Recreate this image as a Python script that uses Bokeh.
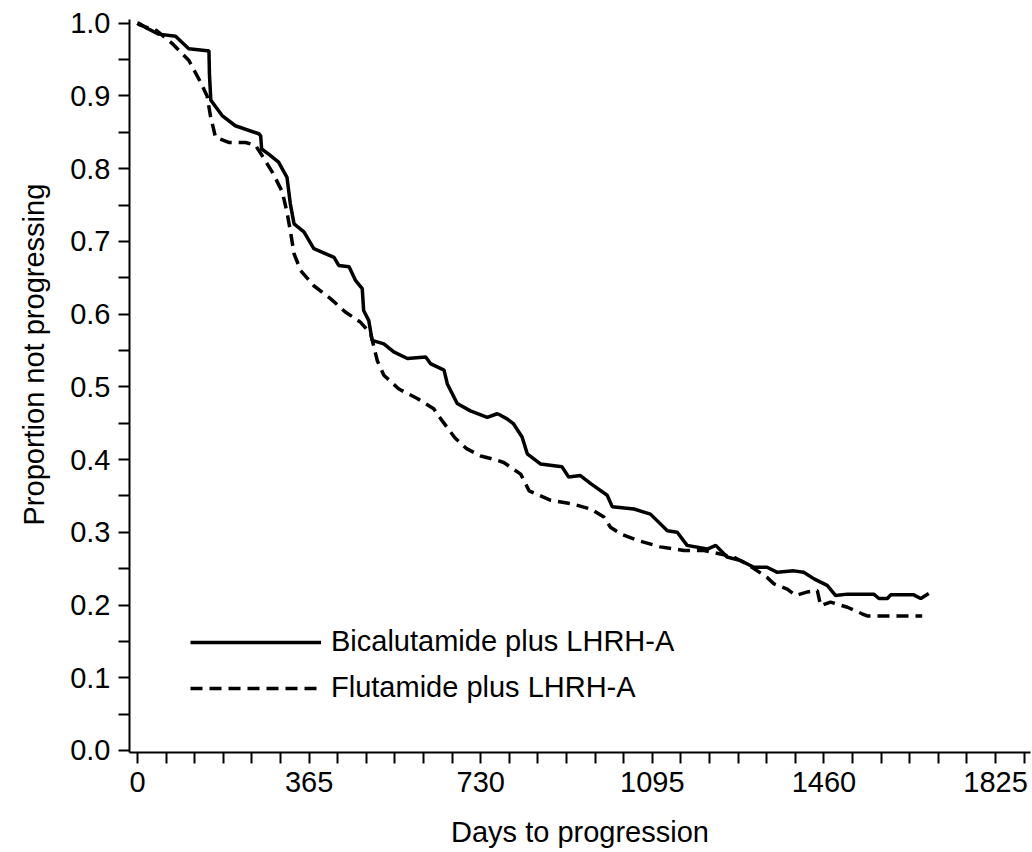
from bokeh.plotting import figure
from bokeh.models import (Range1d, FixedTicker, PrintfTickFormatter, Legend,
                          LegendItem, Title)
from bokeh.embed import file_html
from bokeh.resources import INLINE

# ---- data ----
label_bic = "Bicalutamide plus LHRH-A"
label_flu = "Flutamide plus LHRH-A"

days_bic = [0, 3, 20, 45, 81, 109, 148, 152, 153, 156, 180, 208, 258, 262, 264,
            279, 300, 318, 325, 333, 354, 375, 418, 428, 450, 464, 478, 481,
            492, 499, 524, 545, 574, 613, 623, 652, 659, 680, 708, 744, 765,
            772, 786, 800, 818, 829, 857, 903, 917, 942, 964, 999, 1010, 1056,
            1091, 1127, 1148, 1169, 1212, 1230, 1254, 1283, 1311, 1339, 1361,
            1396, 1417, 1439, 1467, 1485, 1510, 1566, 1577, 1595, 1602, 1651,
            1666, 1683]
surv_bic = [1.0, 1.0, 0.993, 0.985, 0.982, 0.965, 0.962, 0.962, 0.93, 0.894,
            0.873, 0.859, 0.848, 0.845, 0.827, 0.82, 0.809, 0.788, 0.752, 0.724,
            0.713, 0.69, 0.678, 0.667, 0.665, 0.646, 0.635, 0.605, 0.591, 0.564,
            0.559, 0.548, 0.539, 0.541, 0.532, 0.523, 0.504, 0.477, 0.467,
            0.458, 0.463, 0.461, 0.456, 0.449, 0.431, 0.408, 0.394, 0.39, 0.376,
            0.378, 0.367, 0.351, 0.335, 0.332, 0.325, 0.302, 0.30, 0.282, 0.277,
            0.282, 0.266, 0.261, 0.252, 0.252, 0.245, 0.247, 0.245, 0.236,
            0.227, 0.213, 0.215, 0.215, 0.209, 0.209, 0.214, 0.214, 0.209,
            0.216]

days_flu = [0, 3, 40, 74, 109, 134, 148, 155, 166, 194, 230, 251, 265, 287,
            308, 318, 325, 333, 347, 375, 411, 442, 474, 496, 510, 524, 556,
            595, 630, 645, 675, 700, 730, 760, 779, 815, 833, 879, 925, 964,
            992, 1006, 1027, 1063, 1112, 1162, 1205, 1268, 1300, 1339, 1354,
            1382, 1400, 1425, 1446, 1453, 1474, 1510, 1541, 1552, 1669]
surv_flu = [1.0, 0.998, 0.99, 0.972, 0.949, 0.919, 0.90, 0.873, 0.843, 0.836,
            0.836, 0.832, 0.818, 0.795, 0.768, 0.74, 0.715, 0.683, 0.66, 0.639,
            0.621, 0.603, 0.589, 0.573, 0.536, 0.516, 0.497, 0.484, 0.47, 0.456,
            0.43, 0.415, 0.405, 0.40, 0.396, 0.38, 0.357, 0.344, 0.339, 0.332,
            0.321, 0.307, 0.298, 0.289, 0.28, 0.275, 0.275, 0.266, 0.255, 0.238,
            0.229, 0.222, 0.213, 0.218, 0.22, 0.199, 0.204, 0.197, 0.188, 0.185,
            0.185]

x_ticks = [0, 365, 730, 1095, 1460, 1825]
y_ticks = [0.0, 0.1, 0.2, 0.3, 0.4, 0.5, 0.6, 0.7, 0.8, 0.9, 1.0]
x_title = "Days to progression"
y_title = "Proportion not progressing"

FONT = "Liberation Sans"
FS = "29px"

p = figure(width=1032, height=852, output_backend="svg", toolbar_location=None,
           x_range=Range1d(-17.02, 1899.4), y_range=Range1d(-0.00275, 1.00509),
           min_border_left=129, min_border_right=2, min_border_top=19,
           min_border_bottom=100, background_fill_color="white",
           border_fill_color="white")
p.grid.visible = False
p.outline_line_color = None

# ticks
x_minor = []
for a, b in zip(x_ticks[:-1], x_ticks[1:]):
    x_minor += [a + (b - a) * k / 6 for k in range(1, 6)]
x_minor.append(x_ticks[-1] + (x_ticks[1] - x_ticks[0]) / 6)
y_minor = [(a + b) / 2 for a, b in zip(y_ticks[:-1], y_ticks[1:])]

p.xaxis.ticker = FixedTicker(ticks=x_ticks, minor_ticks=x_minor)
p.yaxis.ticker = FixedTicker(ticks=y_ticks, minor_ticks=y_minor)
p.xaxis.formatter = PrintfTickFormatter(format="%d")
p.yaxis.formatter = PrintfTickFormatter(format="%.1f")

for ax in (p.xaxis[0], p.yaxis[0]):
    ax.axis_line_width = 2
    ax.axis_line_color = "black"
    ax.major_tick_line_width = 2
    ax.minor_tick_line_width = 2
    ax.major_tick_line_color = "black"
    ax.minor_tick_line_color = "black"
    ax.major_tick_in = 0
    ax.minor_tick_in = 0
    ax.major_tick_out = 11
    ax.minor_tick_out = 11
    ax.major_label_text_font = FONT
    ax.major_label_text_font_size = FS
    ax.major_label_text_color = "black"

p.yaxis.major_label_standoff = 8
p.xaxis.major_label_standoff = 8

p.xaxis.axis_label = x_title
p.xaxis.axis_label_text_font = FONT
p.xaxis.axis_label_text_font_size = FS
p.xaxis.axis_label_text_font_style = "normal"
p.xaxis.axis_label_text_color = "black"
p.xaxis.axis_label_standoff = 21

p.add_layout(Title(text=y_title, align="left", offset=227, standoff=32,
                   vertical_align="top",
                   text_font=FONT, text_font_size=FS, text_font_style="normal",
                   text_color="black"), "left")

r1 = p.line(days_bic, surv_bic, line_width=3.5, line_color="black")
r2 = p.line(days_flu, surv_flu, line_width=3.5, line_color="black",
            line_dash="12 7")

legend = Legend(items=[LegendItem(label=label_bic, renderers=[r1]),
                       LegendItem(label=label_flu, renderers=[r2])],
                location=(61, 48), glyph_width=131, glyph_height=32,
                label_height=32, spacing=13, padding=0, margin=0,
                label_standoff=10, border_line_color=None,
                background_fill_alpha=0, label_text_font=FONT,
                label_text_font_size=FS, label_text_color="black")
p.add_layout(legend)

open("out.html", "w").write(file_html(p, INLINE))
